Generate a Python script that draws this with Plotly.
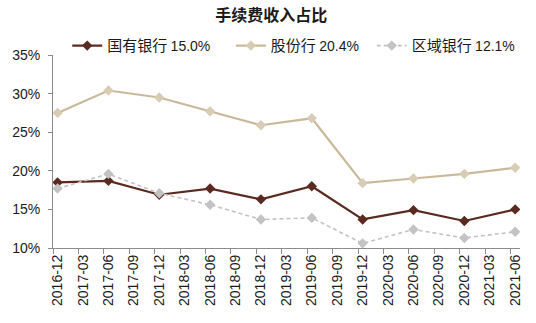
import plotly.graph_objects as go

# Quarter-end periods shown on the category axis
quarters = [
    "2016-12", "2017-03", "2017-06", "2017-09", "2017-12", "2018-03",
    "2018-06", "2018-09", "2018-12", "2019-03", "2019-06", "2019-09",
    "2019-12", "2020-03", "2020-06", "2020-09", "2020-12", "2021-03",
    "2021-06",
]

# Reporting periods with data (half-yearly)
periods = [
    "2016-12", "2017-06", "2017-12", "2018-06", "2018-12",
    "2019-06", "2019-12", "2020-06", "2020-12", "2021-06",
]

# Fee income share of operating income (%)
state_banks = [18.5, 18.7, 16.9, 17.7, 16.3, 18.0, 13.7, 14.9, 13.5, 15.0]
joint_stock = [27.5, 30.4, 29.5, 27.7, 25.9, 26.8, 18.4, 19.0, 19.6, 20.4]
regional = [17.7, 19.6, 17.1, 15.6, 13.7, 13.9, 10.6, 12.4, 11.3, 12.1]

y_ticks = [10, 15, 20, 25, 30, 35]

# points sit slightly to the right of each period tick
OFFSET = 0.18
pos = {q: i for i, q in enumerate(quarters)}
x_pts = [pos[p] + OFFSET for p in periods]

LATIN = "Liberation Sans, Arial, Noto Sans CJK SC, sans-serif"
CJK = "Noto Sans CJK SC, Liberation Sans, sans-serif"

fig = go.Figure()

# name, values, line colour, marker colour, dash, width, trailing legend pad
series = [
    ("国有银行", state_banks, "#5a2a20", "#5a2a20", "solid", 2.2, 4),
    ("股份行", joint_stock, "#c9b99b", "#d8ccb4", "solid", 2.2, 2),
    ("区域银行", regional, "#c3c3c3", "#c3c3c3", "4px,3px", 1.6, 0),
]

for name, vals, lc, mc, dash, w, pad in series:
    label = (f"{name} <span style='font-family:{LATIN};font-size:14px'>"
             f"{vals[-1]:.1f}%{'&nbsp;' * pad}</span>")
    fig.add_trace(go.Scatter(
        x=x_pts, y=vals, name=label, mode="lines+markers",
        line=dict(color=lc, width=w, dash=dash),
        marker=dict(symbol="diamond", size=8, color=mc),
    ))

fig.update_layout(
    width=536, height=323,
    margin=dict(l=53, r=16, t=55, b=75, autoexpand=False),
    paper_bgcolor="white", plot_bgcolor="white",
    font=dict(family=LATIN, size=14, color="#1a1a1a"),
    title=dict(
        text="<b>手续费收入占比</b>", x=0.506, xref="container",
        y=0.953, yref="container", xanchor="center", yanchor="middle",
        font=dict(family=CJK, size=16, color="#1a1a1a"),
    ),
    legend=dict(
        orientation="h", xref="container", yref="container",
        x=0.548, xanchor="center", y=0.858, yanchor="middle",
        font=dict(family=CJK, size=15, color="#1a1a1a"),
        bgcolor="rgba(0,0,0,0)", itemwidth=30,
    ),
    showlegend=True,
)

fig.update_xaxes(
    range=[0, len(quarters) - 1 + 0.37],
    tickmode="array",
    tickvals=[i + OFFSET for i in range(len(quarters))],
    ticktext=quarters,
    tickangle=-90,
    ticks="outside", ticklen=0,
    minor=dict(
        tickmode="array", tickvals=list(range(len(quarters))),
        ticks="outside", ticklen=5, tickcolor="#8c8c8c", showgrid=False,
    ),
    showline=True, linecolor="#8c8c8c", linewidth=1,
    showgrid=False, zeroline=False,
    tickfont=dict(size=14),
)

fig.update_yaxes(
    range=[10, 35],
    tickmode="array", tickvals=y_ticks,
    ticktext=[f"{v}%" for v in y_ticks],
    ticks="outside", ticklen=4, tickcolor="#8c8c8c",
    ticklabelstandoff=5,
    showline=True, linecolor="#8c8c8c", linewidth=1,
    showgrid=False, zeroline=False,
    tickfont=dict(size=14),
)

fig.write_html("out.html")
